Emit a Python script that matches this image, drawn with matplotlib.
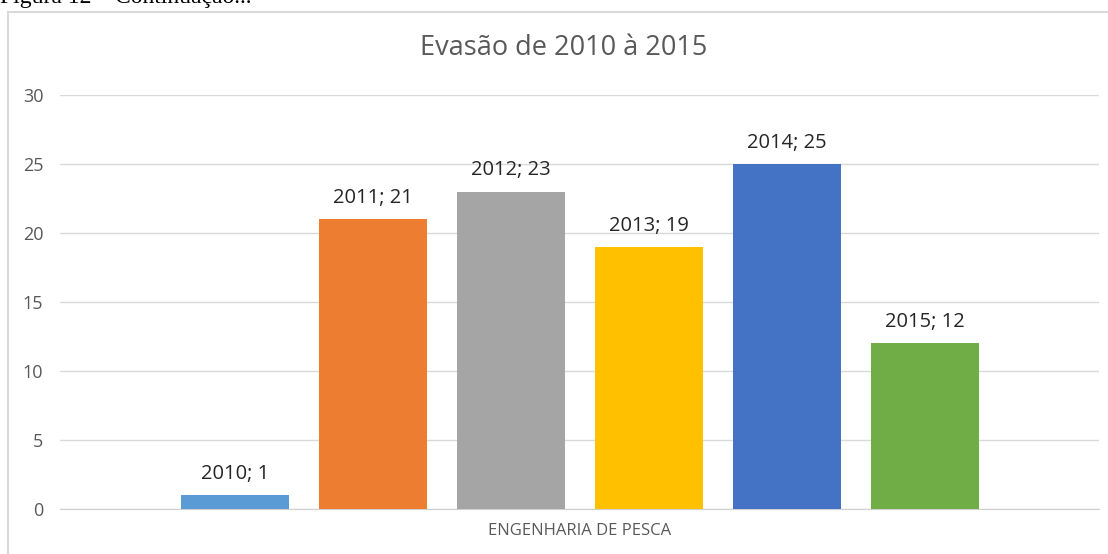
import matplotlib.pyplot as plt

anos = ["2010", "2011", "2012", "2013", "2014", "2015"]
evasao = [1, 21, 23, 19, 25, 12]
cores = ["#5B9BD5", "#ED7D31", "#A5A5A5", "#FFC000", "#4472C4", "#70AD47"]
categoria = "ENGENHARIA DE PESCA"
titulo = "Evasão de 2010 à 2015"

W, H = 1108, 554
fig = plt.figure(figsize=(W / 100, H / 100), dpi=100)
fig.patch.set_facecolor("white")

# caption of the page, half cut by the top edge
fig.text(0 / W, 1 - 3 / H, "Figura 12 – Continuação...", family="Liberation Serif",
         fontsize=17, color="black", va="baseline", ha="left")

# chart border (top and left visible)
fig.add_artist(plt.Line2D([8 / W, 1], [1 - 11.5 / H, 1 - 11.5 / H], color="#d9d9d9", lw=1.5))
fig.add_artist(plt.Line2D([8 / W, 8 / W], [0, 1 - 11.5 / H], color="#d9d9d9", lw=1.5))

ax = fig.add_axes([60 / W, (H - 509) / H, (1099 - 60) / W, (509 - 95) / H])
ax.set_facecolor("none")

x = list(range(len(anos)))
ax.bar(x, evasao, width=108 / 138, color=cores, zorder=3)
ax.set_xlim((60 - 235) / 138, (1099 - 235) / 138)
ax.set_ylim(0, 30)
ax.set_yticks(range(0, 31, 5))
ax.grid(axis="y", color="#d9d9d9", lw=1, zorder=0)
for s in ["top", "right", "left"]:
    ax.spines[s].set_visible(False)
ax.spines["bottom"].set_color("#d0d0d0")
ax.tick_params(axis="y", length=0, pad=12, labelsize=13, labelcolor="#595959")
ax.tick_params(axis="x", length=0)
ax.set_xticks([2.5])
ax.set_xticklabels([categoria], fontsize=12, color="#595959", family="Open Sans")
ax.tick_params(axis="x", pad=10)
for lab in ax.get_yticklabels():
    lab.set_family("Open Sans")

for xi, v, a in zip(x, evasao, anos):
    ax.annotate(f"{a}; {v}", (xi, v), xytext=(0, 8), textcoords="offset points",
                ha="center", va="bottom", fontsize=14.5, color="#262626", family="Open Sans")

fig.text(564 / W, 1 - 48 / H, titulo, ha="center", va="center",
         fontsize=19.5, color="#595959", family="Open Sans")

fig.savefig("out.png", dpi=100)
